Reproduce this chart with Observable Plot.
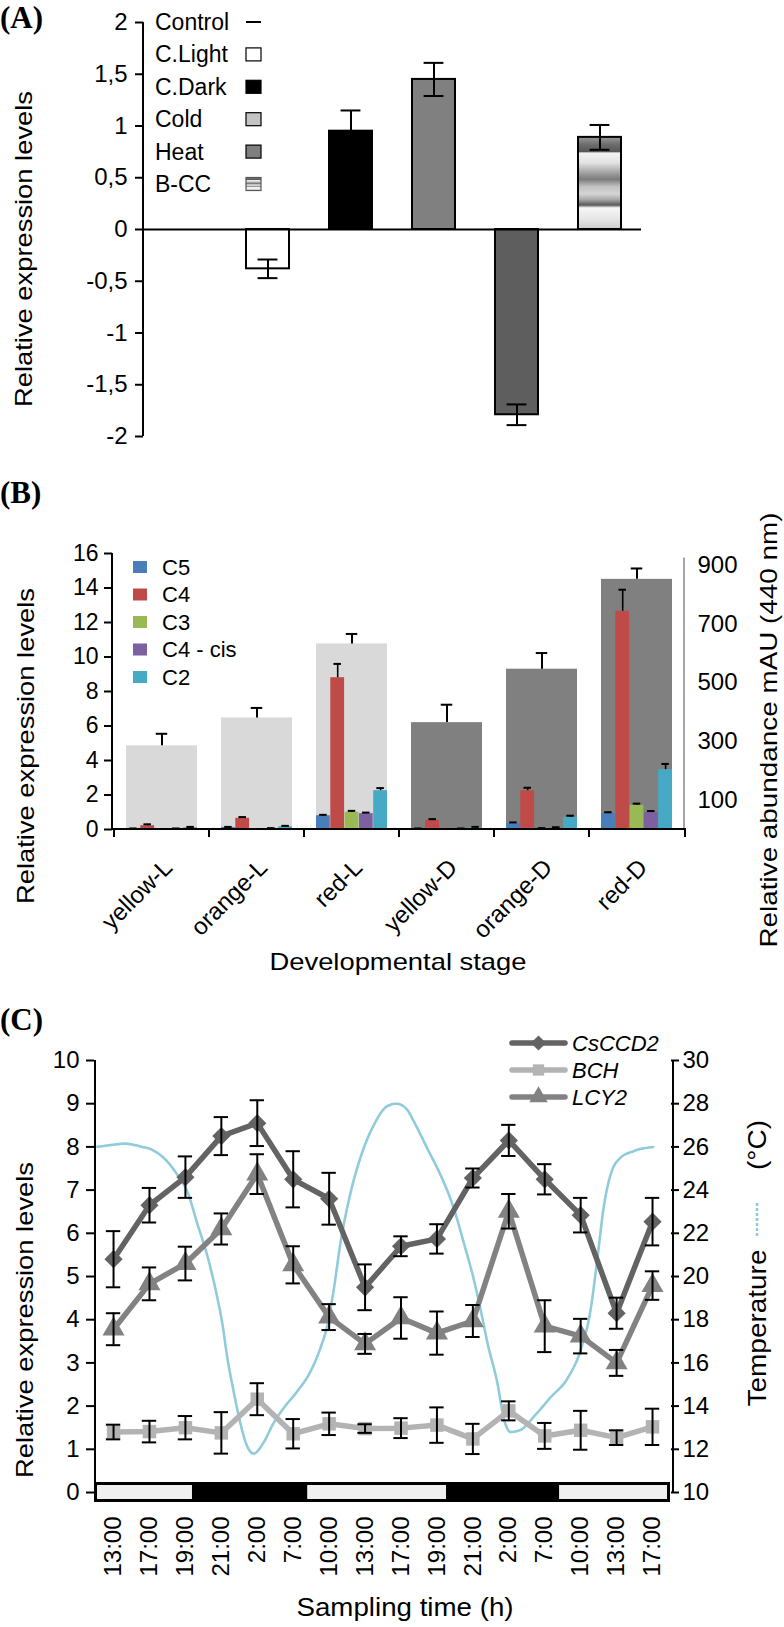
<!DOCTYPE html>
<html>
<head>
<meta charset="utf-8">
<script src="https://cdn.jsdelivr.net/npm/d3@7"></script>
<script src="https://cdn.jsdelivr.net/npm/@observablehq/plot@0.6"></script>
<style>
  html, body { margin: 0; padding: 0; background: #fff; overflow: hidden; }
  #root { position: relative; width: 784px; height: 1627px; overflow: hidden; background: #fff; }
  .panel { position: absolute; left: 0; }
  .panel svg { display: block; }
</style>
</head>
<body>
<div id="root">
  <div class="panel" id="pA" style="top:0px"></div>
  <div class="panel" id="pB" style="top:460px"></div>
  <div class="panel" id="pC" style="top:980px"></div>
</div>
<script>
// ================= DATA =================
// Panel A
const treatA = ["Control", "C.Light", "C.Dark", "Cold", "Heat", "B-CC"];
const exprA  = [0, -0.38, 0.95, 1.45, -1.79, 0.89];
const errA   = [0, 0.09, 0.20, 0.16, 0.10, 0.12];
const ticksA = [-2, -1.5, -1, -0.5, 0, 0.5, 1, 1.5, 2];

// Panel B
const stagesB    = ["yellow-L", "orange-L", "red-L", "yellow-D", "orange-D", "red-D"];
const compoundsB = ["C5", "C4", "C3", "C4 - cis", "C2"];
const abundB     = [285, 380, 632, 364, 546, 852];   // mAU (right axis)
const abundErrB  = [41, 34, 34, 61, 55, 37];
const exprC5     = [0.04, 0.12, 0.80, 0.04, 0.35, 0.92];
const errC5      = [0.02, 0.03, 0.05, 0.02, 0.06, 0.08];
const exprC4     = [0.22, 0.65, 8.80, 0.52, 2.25, 12.65];
const errC4      = [0.08, 0.07, 0.80, 0.08, 0.17, 1.25];
const exprC3     = [0.02, 0.02, 1.00, 0.02, 0.05, 1.40];
const errC3      = [0.01, 0.01, 0.08, 0.01, 0.03, 0.10];
const exprC4cis  = [0.04, 0.06, 0.92, 0.04, 0.10, 1.00];
const errC4cis   = [0.02, 0.02, 0.06, 0.02, 0.03, 0.07];
const exprC2     = [0.10, 0.16, 2.25, 0.12, 0.70, 3.47];
const errC2      = [0.05, 0.05, 0.15, 0.03, 0.10, 0.33];
const ticksBLeft  = [0, 2, 4, 6, 8, 10, 12, 14, 16];
const ticksBRight = [100, 300, 500, 700, 900];
const maxBLeft = 16, maxBRight = 940;

// Panel C
const timesC  = ["13:00","17:00","19:00","21:00","2:00","7:00","10:00","13:00","17:00","19:00","21:00","2:00","7:00","10:00","13:00","17:00"];
const ccd2    = [5.40, 6.65, 7.30, 8.25, 8.55, 7.25, 6.80, 4.75, 5.70, 5.87, 7.28, 8.15, 7.25, 6.42, 4.15, 6.27];
const ccd2Err = [0.65, 0.40, 0.48, 0.44, 0.53, 0.65, 0.60, 0.53, 0.23, 0.34, 0.22, 0.36, 0.35, 0.40, 0.36, 0.55];
const lcy2    = [3.78, 4.83, 5.30, 6.10, 7.37, 5.27, 4.06, 3.44, 4.04, 3.69, 3.97, 6.51, 3.85, 3.62, 3.00, 4.79];
const lcy2Err = [0.37, 0.38, 0.39, 0.36, 0.46, 0.43, 0.30, 0.23, 0.48, 0.50, 0.37, 0.40, 0.60, 0.40, 0.30, 0.33];
const bch     = [1.40, 1.41, 1.50, 1.38, 2.16, 1.36, 1.59, 1.48, 1.49, 1.56, 1.24, 1.89, 1.31, 1.44, 1.27, 1.52];
const bchErr  = [0.17, 0.25, 0.27, 0.48, 0.37, 0.34, 0.26, 0.10, 0.23, 0.41, 0.35, 0.22, 0.30, 0.45, 0.17, 0.42];
const tempPos = [-0.45, 0, 0.3, 0.8, 1.03, 1.39, 1.78, 2.06, 2.34, 2.62, 2.89, 3.03, 3.17, 3.34, 3.53, 3.73, 3.90, 4.17, 4.45, 4.73, 5.12, 5.48, 5.76, 5.96, 6.12, 6.32, 6.60, 6.87, 7.24, 7.63, 7.88, 8.18, 8.35, 8.74, 9.10, 9.46, 9.74, 10.02, 10.21, 10.41, 10.69, 10.85, 11.05, 11.33, 11.69, 12.16, 12.64, 13.0, 13.28, 13.47, 13.64, 13.83, 14.11, 14.47, 15.03];
const tempC   = [26.0, 26.1, 26.15, 26.0, 25.9, 25.5, 24.7, 23.9, 22.4, 20.9, 19.0, 17.8, 16.2, 14.7, 13.2, 12.1, 11.8, 12.3, 13.2, 13.9, 14.7, 15.6, 16.7, 17.8, 19.3, 21.6, 23.9, 25.5, 27.0, 27.9, 28.0, 27.7, 27.2, 25.9, 24.7, 23.2, 21.6, 19.9, 18.5, 16.9, 15.0, 13.5, 12.8, 12.9, 13.5, 14.4, 15.3, 16.6, 18.5, 20.9, 23.2, 24.7, 25.5, 25.8, 26.0];
const periodStart = [-0.53, 2.28, 5.32, 9.35, 12.33];
const periodEnd   = [2.28, 5.32, 9.35, 12.33, 15.5];
const periodPhase = ["light", "dark", "light", "dark", "light"];
const ticksCLeft  = [0, 1, 2, 3, 4, 5, 6, 7, 8, 9, 10];
const ticksCRight = [10, 12, 14, 16, 18, 20, 22, 24, 26, 28, 30];
const seriesC = ["CsCCD2", "BCH", "LCY2"];

// ================= STYLE =================
const FONT = "'Liberation Sans', Arial, Helvetica, sans-serif";
const SERIF = "'Liberation Serif', 'Times New Roman', serif";
const fillA = {"Control": "#000", "C.Light": "#ffffff", "C.Dark": "#000000", "Cold": "#808080", "Heat": "#5e5e5e", "B-CC": "url(#bccGrad)"};
const legendFillA = {"C.Light": "#ffffff", "C.Dark": "#000000", "Cold": "#c4c4c4", "Heat": "#7f7f7f", "B-CC": "url(#bccGrad)"};
const colorB = {"C5": "#4a7ebb", "C4": "#be4b48", "C3": "#98b954", "C4 - cis": "#7d60a0", "C2": "#46aac5"};
const styleC = {
  "CsCCD2": {color: "#636363", symbol: "diamond2", r: 8.2},
  "BCH":    {color: "#b3b3b3", symbol: "square", r: 7.6},
  "LCY2":   {color: "#828282", symbol: "triangle", r: 8.2}
};
const TEMP_COLOR = "#8fcbdb";

// ================= HELPERS =================
function txt(svg, x, y, s, o = {}) {
  const t = d3.select(svg).append("text")
    .attr("transform", `translate(${x},${y})` + (o.rotate ? ` rotate(${o.rotate})` : ""))
    .attr("text-anchor", o.anchor || "start")
    .attr("dy", o.dy ?? "0.35em")
    .attr("fill", "#000")
    .style("font-family", o.family || FONT)
    .style("font-size", (o.size || 22) + "px")
    .style("font-style", o.italic ? "italic" : "normal")
    .style("font-weight", o.bold ? "bold" : "normal")
    .text(s);
  if (o.length) t.attr("textLength", o.length).attr("lengthAdjust", "spacingAndGlyphs");
  return t;
}
function ln(svg, x1, y1, x2, y2, stroke = "#000", w = 2, dash = null) {
  const l = d3.select(svg).append("line")
    .attr("x1", x1).attr("y1", y1).attr("x2", x2).attr("y2", y2)
    .attr("stroke", stroke).attr("stroke-width", w);
  if (dash) l.attr("stroke-dasharray", dash);
  return l;
}
const baseStyle = {fontFamily: FONT, fontSize: "22px", color: "#000", background: "transparent", overflow: "visible"};
const fmtComma = d => String(d).replace(".", ",");

// ================= PANEL A =================
{
  const W = 784, H = 460, mL = 143, mR = 143, mT = 22, mB = 24;
  const rows = treatA.map((t, i) => ({t, v: exprA[i], e: errA[i]}));
  const bars = rows.filter(d => d.t !== "Control");
  const bw = (W - mL - mR) / treatA.length * 0.52;
  const cap = 20;
  const plot = Plot.plot({
    width: W, height: H, marginLeft: mL, marginRight: mR, marginTop: mT, marginBottom: mB,
    style: baseStyle,
    color: {type: "identity"},
    x: {domain: treatA, paddingInner: 0.48, paddingOuter: 0.24, axis: null},
    y: {domain: [-2, 2], axis: null},
    marks: [
      Plot.barY(bars, {x: "t", y: "v", fill: d => fillA[d.t], stroke: "#000", strokeWidth: 2}),
      Plot.ruleY([0], {stroke: "#000", strokeWidth: 2}),
      Plot.ruleX(bars, {x: "t", y1: d => d.v - d.e, y2: d => d.v + d.e, stroke: "#000", strokeWidth: 2}),
      Plot.tickY(bars, {x: "t", y: d => d.v + d.e, stroke: "#000", strokeWidth: 2, insetLeft: (bw - cap) / 2, insetRight: (bw - cap) / 2}),
      Plot.tickY(bars, {x: "t", y: d => d.v - d.e, stroke: "#000", strokeWidth: 2, insetLeft: (bw - cap) / 2, insetRight: (bw - cap) / 2}),
      Plot.axisY(ticksA, {label: null, tickSize: 8, tickPadding: 8, tickFormat: fmtComma, strokeWidth: 2, fontSize: 24})
    ]
  });
  const svg = plot;
  document.getElementById("pA").appendChild(plot);
  const y = plot.scale("y");
  const g = d3.select(svg).insert("defs", ":first-child").append("linearGradient")
    .attr("id", "bccGrad").attr("x1", 0).attr("y1", 0).attr("x2", 0).attr("y2", 1);
  [[0, "#9a9a9a"], [0.08, "#6e6e6e"], [0.16, "#575757"], [0.175, "#f2f2f2"], [0.28, "#e2e2e2"], [0.40, "#9c9c9c"],
   [0.46, "#7c7c7c"], [0.54, "#c2c2c2"], [0.62, "#d4d4d4"], [0.68, "#a8a8a8"], [0.74, "#585858"], [0.77, "#f6f6f6"],
   [0.90, "#e4e4e4"], [1, "#cdcdcd"]].forEach(([o, c]) => g.append("stop").attr("offset", o).attr("stop-color", c));
  ln(svg, mL, y.apply(2), mL, y.apply(-2), "#000", 2);
  treatA.forEach((t, i) => {
    const cy = 22 + i * 32.4;
    txt(svg, 155, cy, t, {size: 23});
    if (t === "Control") ln(svg, 246, cy, 261, cy, "#000", 2);
    else d3.select(svg).append("rect").attr("x", 246).attr("y", cy - 6.5).attr("width", 15).attr("height", 13)
      .attr("fill", legendFillA[t]).attr("stroke", t === "B-CC" ? "#555" : "#000").attr("stroke-width", 1.2);
  });
  txt(svg, 24, (y.apply(2) + y.apply(-2)) / 2 + 20, "Relative expression levels", {rotate: -90, anchor: "middle", size: 24, length: 316});
  txt(svg, 0, 28, "(A)", {family: SERIF, bold: true, size: 31, dy: 0});
}

// ================= PANEL B =================
{
  const W = 784, H = 520, mL = 112, mR = 99, mT = 93, mB = 151;
  const k = maxBRight / maxBLeft;
  const exprB = [exprC5, exprC4, exprC3, exprC4cis, exprC2];
  const errB  = [errC5, errC4, errC3, errC4cis, errC2];
  const abundRows = stagesB.map((s, i) => ({s, a: abundB[i], e: abundErrB[i]}));
  const step = (W - mL - mR) / stagesB.length;
  const gap = 12, sw = (step - 2 * gap) / compoundsB.length, capW = 8;
  const marks = [
    Plot.barY(abundRows, {x: "s", y: d => d.a / k, fill: d => d.s.endsWith("-L") ? "#d9d9d9" : "#808080", insetLeft: gap, insetRight: gap}),
    Plot.ruleX(abundRows, {x: "s", y1: d => d.a / k, y2: d => (d.a + d.e) / k, stroke: "#000", strokeWidth: 2}),
    Plot.tickY(abundRows, {x: "s", y: d => (d.a + d.e) / k, stroke: "#000", strokeWidth: 2, insetLeft: (step - 12) / 2, insetRight: (step - 12) / 2})
  ];
  compoundsB.forEach((c, j) => {
    const rows = stagesB.map((s, i) => ({s, c, v: exprB[j][i], e: errB[j][i]}));
    const cx = gap + sw * (j + 0.5);
    marks.push(Plot.barY(rows, {x: "s", y: "v", fill: colorB[c], insetLeft: gap + sw * j, insetRight: step - gap - sw * (j + 1)}));
    marks.push(Plot.ruleX(rows, {x: "s", y1: "v", y2: d => d.v + d.e, dx: cx - step / 2, stroke: "#000", strokeWidth: 1.6}));
    marks.push(Plot.tickY(rows, {x: "s", y: d => d.v + d.e, stroke: "#000", strokeWidth: 2, insetLeft: cx - capW / 2, insetRight: step - cx - capW / 2}));
  });
  marks.push(Plot.axisY(ticksBLeft, {label: null, tickSize: 8, tickPadding: 6, strokeWidth: 2, fontSize: 23}));
  marks.push(Plot.axisY(ticksBRight.map(v => v / k), {label: null, anchor: "right", tickSize: 0, tickPadding: 12, tickFormat: v => Math.round(v * k), fontSize: 24}));
  const plot = Plot.plot({
    width: W, height: H, marginLeft: mL, marginRight: mR, marginTop: mT, marginBottom: mB,
    style: baseStyle,
    color: {type: "identity"},
    x: {domain: stagesB, padding: 0, axis: null},
    y: {domain: [0, maxBLeft], axis: null},
    marks
  });
  document.getElementById("pB").appendChild(plot);
  const svg = plot;
  const x = plot.scale("x"), y = plot.scale("y");
  const y0 = y.apply(0);
  ln(svg, mL, y.apply(maxBLeft), mL, y0, "#000", 2);
  ln(svg, W - mR - 1, y.apply(925 / k), W - mR - 1, y0, "#a6a6a6", 2);
  ln(svg, mL, y0, W - mR + 1, y0, "#000", 2);
  stagesB.forEach(s => ln(svg, x.apply(s), y0, x.apply(s), y0 + 8, "#000", 2));
  ln(svg, W - mR, y0, W - mR, y0 + 8, "#000", 2);
  // rotated category labels
  stagesB.forEach(s => txt(svg, x.apply(s) + step / 2 + 6, y0 + 34, s, {rotate: -45, anchor: "end", size: 24}));
  // legend
  compoundsB.forEach((c, j) => {
    const cy = 107 + j * 27.5;
    d3.select(svg).append("rect").attr("x", 133).attr("y", cy - 6).attr("width", 14).attr("height", 12).attr("fill", colorB[c]);
    txt(svg, 162, cy, c, {size: 22});
  });
  txt(svg, 26, (y.apply(maxBLeft) + y0) / 2 + 55, "Relative expression levels", {rotate: -90, anchor: "middle", size: 24, length: 316});
  txt(svg, 769, 270, "Relative abundance mAU (440 nm)", {rotate: -90, anchor: "middle", size: 24, length: 435});
  txt(svg, 398, 502, "Developmental stage", {anchor: "middle", size: 24, length: 257});
  txt(svg, 0, 43, "(B)", {family: SERIF, bold: true, size: 31, dy: 0});
}

// ================= PANEL C =================
{
  const W = 784, H = 647, mL = 94, mR = 114, mT = 80, mB = 135;
  const toLeft = t => (t - 10) / 2;
  const series = {"CsCCD2": [ccd2, ccd2Err], "BCH": [bch, bchErr], "LCY2": [lcy2, lcy2Err]};
  const temp = tempPos.map((p, i) => ({p, t: tempC[i]}));
  const periods = periodStart.map((s, i) => ({s, e: periodEnd[i], phase: periodPhase[i]}));
  const capHalf = 0.2;
  const marks = [
    Plot.line(temp, {x: "p", y: d => toLeft(d.t), stroke: TEMP_COLOR, strokeWidth: 2.6, strokeDasharray: "3 1", curve: "monotone-x"}),
    Plot.rect([{s: periodStart[0], e: periodEnd[periodEnd.length - 1]}], {x1: "s", x2: "e", y1: 0, y2: 0, insetTop: -10, insetBottom: -10, fill: "#000"}),
    Plot.rect(periods.filter(d => d.phase === "light"), {x1: "s", x2: "e", y1: 0, y2: 0, insetTop: -7, insetBottom: -7, insetLeft: 3, insetRight: 3, fill: "#f0f0f0"})
  ];
  const order = ["LCY2", "CsCCD2", "BCH"];
  order.forEach(name => {
    const [vals] = series[name];
    const rows = vals.map((v, i) => ({i, v}));
    const st = styleC[name];
    marks.push(Plot.line(rows, {x: "i", y: "v", stroke: st.color, strokeWidth: 5.5}));
    marks.push(Plot.dot(rows, {x: "i", y: "v", symbol: st.symbol, r: st.r, fill: st.color, stroke: "none"}));
  });
  order.forEach(name => {
    const [vals, errs] = series[name];
    const rows = vals.map((v, i) => ({i, v, e: errs[i]}));
    marks.push(Plot.ruleX(rows, {x: "i", y1: d => d.v - d.e, y2: d => d.v + d.e, stroke: "#000", strokeWidth: 2}));
    marks.push(Plot.ruleY(rows, {y: d => d.v + d.e, x1: d => d.i - capHalf, x2: d => d.i + capHalf, stroke: "#000", strokeWidth: 2}));
    marks.push(Plot.ruleY(rows, {y: d => d.v - d.e, x1: d => d.i - capHalf, x2: d => d.i + capHalf, stroke: "#000", strokeWidth: 2}));
  });
  marks.push(Plot.axisY(ticksCLeft, {label: null, tickSize: 8, tickPadding: 7, strokeWidth: 2, fontSize: 24}));
  marks.push(Plot.axisY(ticksCRight.map(toLeft), {label: null, anchor: "right", tickSize: 8, tickPadding: 4, strokeWidth: 2, tickFormat: v => v * 2 + 10, fontSize: 24}));
  marks.push(Plot.axisX(d3.range(timesC.length), {label: null, tickSize: 0, tickRotate: -90, tickPadding: 24, tickFormat: i => timesC[i], fontSize: 24}));
  const plot = Plot.plot({
    width: W, height: H, marginLeft: mL, marginRight: mR, marginTop: mT, marginBottom: mB,
    style: baseStyle,
    color: {type: "identity"},
    x: {domain: [periodStart[0], periodEnd[periodEnd.length - 1]], axis: null},
    y: {domain: [0, 10], axis: null},
    marks
  });
  document.getElementById("pC").appendChild(plot);
  const svg = plot;
  const y = plot.scale("y");
  ln(svg, mL + 1, y.apply(10), mL + 1, y.apply(0) + 1, "#000", 2);
  ln(svg, W - mR + 3, y.apply(10), W - mR + 3, y.apply(0) + 1, "#000", 2);
  seriesC.forEach((name, i) => {
    const cy = 63 + i * 27;
    const st = styleC[name];
    ln(svg, 512, cy, 565, cy, st.color, 5.5).attr("stroke-linecap", "round");
    d3.select(svg).append("path")
      .attr("d", d3.symbol(st.symbol === "diamond2" ? d3.symbolDiamond2 : st.symbol === "square" ? d3.symbolSquare : d3.symbolTriangle, st.r * st.r * Math.PI * 0.7)())
      .attr("transform", `translate(538.5,${cy})`).attr("fill", st.color);
    txt(svg, 572, cy, name, {size: 22, italic: true});
  });
  txt(svg, 25, (y.apply(10) + y.apply(0)) / 2 + 44, "Relative expression levels", {rotate: -90, anchor: "middle", size: 24, length: 316});
  txt(svg, 757, 348, "Temperature", {rotate: -90, anchor: "middle", size: 25, length: 157});
  ln(svg, 757, 223, 757, 257, TEMP_COLOR, 2.5, "3 2");
  txt(svg, 757, 165, "(°C)", {rotate: -90, anchor: "middle", size: 25, length: 50});
  txt(svg, 405, 627, "Sampling time (h)", {anchor: "middle", size: 26, length: 217});
  txt(svg, 0, 50, "(C)", {family: SERIF, bold: true, size: 31, dy: 0});
}
</script>
</body>
</html>
